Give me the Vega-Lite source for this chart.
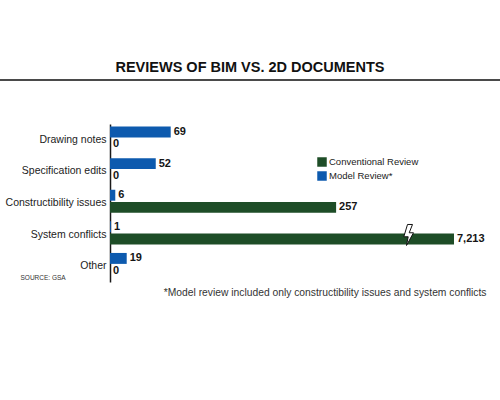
{
  "$schema": "https://vega.github.io/schema/vega-lite/v6.json",
  "width": 500,
  "height": 220,
  "autosize": {"type": "none"},
  "padding": {"left": 0, "top": 80, "right": 0, "bottom": 0},
  "background": "white",
  "title": {
    "text": "REVIEWS OF BIM VS. 2D DOCUMENTS",
    "font": "Liberation Sans",
    "fontSize": 14.5,
    "fontWeight": "bold",
    "color": "#111111",
    "anchor": "middle",
    "offset": 5
  },
  "config": {
    "view": {"stroke": "#4a4a4a", "strokeWidth": 2, "strokeDash": [500, 3000]},
    "font": "Liberation Sans"
  },
  "data": {
    "values": [
      {"category": "Drawing notes", "series": "Model Review*", "value": 69},
      {"category": "Drawing notes", "series": "Conventional Review", "value": 0},
      {"category": "Specification edits", "series": "Model Review*", "value": 52},
      {"category": "Specification edits", "series": "Conventional Review", "value": 0},
      {"category": "Constructibility issues", "series": "Model Review*", "value": 6},
      {"category": "Constructibility issues", "series": "Conventional Review", "value": 257},
      {"category": "System conflicts", "series": "Model Review*", "value": 1},
      {"category": "System conflicts", "series": "Conventional Review", "value": 7213},
      {"category": "Other", "series": "Model Review*", "value": 19},
      {"category": "Other", "series": "Conventional Review", "value": 0}
    ]
  },
  "encoding": {
    "y": {
      "field": "category",
      "type": "nominal",
      "sort": ["Drawing notes", "Specification edits", "Constructibility issues", "System conflicts", "Other"],
      "scale": {"range": [44, 202], "paddingInner": 0, "paddingOuter": 0},
      "axis": {
        "orient": "left",
        "offset": -110,
        "ticks": false,
        "domain": true,
        "domainColor": "#1a1a1a",
        "domainWidth": 1.5,
        "labelPadding": 4,
        "labelFontSize": 10.5,
        "labelFont": "Liberation Sans",
        "labelColor": "#222222",
        "grid": false,
        "title": "SOURCE: GSA",
        "titleAngle": 0,
        "titleX": -90,
        "titleY": 199,
        "titleAlign": "left",
        "titleBaseline": "alphabetic",
        "titleFontSize": 6.5,
        "titleFontWeight": "normal",
        "titleFont": "Liberation Sans",
        "titleColor": "#333333"
      }
    },
    "yOffset": {
      "field": "series",
      "type": "nominal",
      "sort": ["Model Review*", "Conventional Review"],
      "scale": {"paddingInner": 0.1, "paddingOuter": 0.35, "align": 0.3}
    },
    "x": {
      "field": "value",
      "type": "quantitative",
      "scale": {"domain": [0, 391], "range": [110, 454], "clamp": true, "nice": false, "zero": true},
      "axis": {
        "orient": "bottom",
        "domain": false,
        "ticks": false,
        "labels": false,
        "grid": false,
        "title": "*Model review included only constructibility issues and system conflicts",
        "titleX": 486,
        "titleY": -5,
        "titleAlign": "right",
        "titleBaseline": "alphabetic",
        "titleFontSize": 10.3,
        "titleFontWeight": "normal",
        "titleFont": "Liberation Sans",
        "titleColor": "#333333"
      }
    }
  },
  "layer": [
    {
      "mark": {"type": "bar"},
      "encoding": {
        "color": {
          "field": "series",
          "type": "nominal",
          "scale": {"domain": ["Conventional Review", "Model Review*"], "range": ["#1e4d27", "#0d5aae"]},
          "legend": {
            "orient": "none",
            "legendX": 317,
            "legendY": 77,
            "title": null,
            "symbolType": "square",
            "symbolSize": 90,
            "symbolStrokeWidth": 0,
            "labelFont": "Liberation Sans",
            "labelFontSize": 9.5,
            "labelColor": "#222222",
            "labelOffset": 2,
            "rowPadding": 4,
            "padding": 0
          }
        }
      }
    },
    {
      "mark": {"type": "text", "align": "left", "baseline": "middle", "dx": 3, "fontWeight": "bold", "fontSize": 11, "font": "Liberation Sans", "color": "#151515"},
      "encoding": {
        "text": {"field": "value", "type": "quantitative", "format": ","}
      }
    },
    {
      "transform": [{"filter": "datum.value > 391"}],
      "mark": {
        "type": "point",
        "shape": "M-0.05,-1.45 L0.45,-1.45 L0.12,-0.62 L0.55,-0.62 L-0.15,0.65 L0.02,-0.22 L-0.42,-0.22 Z",
        "size": 400,
        "filled": true,
        "fill": "white",
        "stroke": "#111111",
        "strokeWidth": 1,
        "opacity": 1
      },
      "encoding": {
        "xOffset": {"value": -46}
      }
    }
  ]
}
